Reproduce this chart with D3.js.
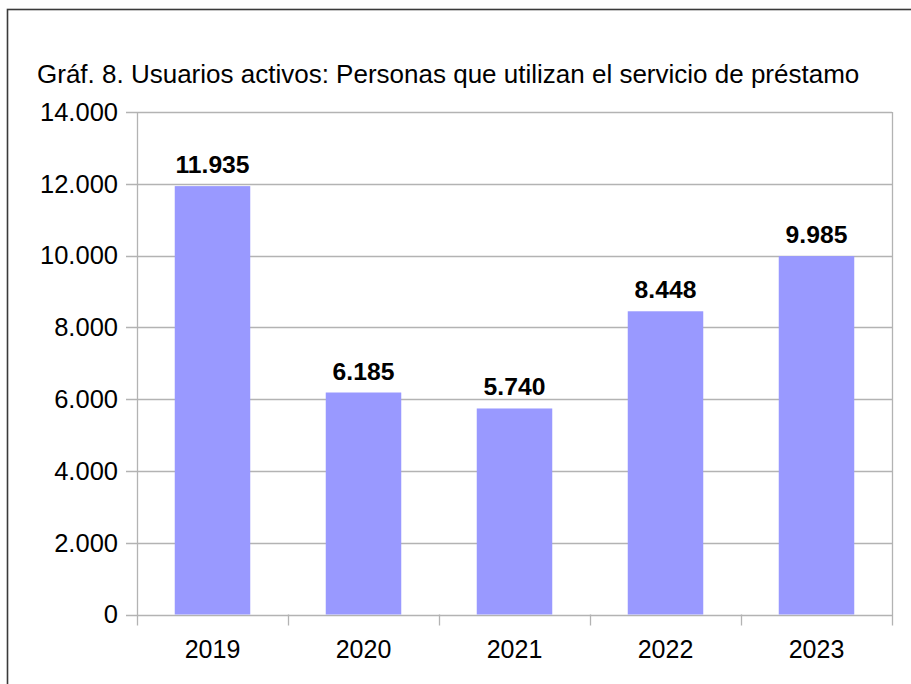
<!DOCTYPE html>
<html>
<head>
<meta charset="utf-8">
<script src="https://cdn.jsdelivr.net/npm/d3@7"></script>
<style>
  body { margin: 0; background: #fff; }
  svg text { font-family: "Liberation Sans", Arial, sans-serif; fill: #000; }
</style>
</head>
<body>
<svg id="chart" width="911" height="684"></svg>
<script>
const years = ['2019', '2020', '2021', '2022', '2023'];
const usuarios = [11935, 6185, 5740, 8448, 9985];
const yTicks = [0, 2000, 4000, 6000, 8000, 10000, 12000, 14000];
const title = 'Gráf. 8. Usuarios activos: Personas que utilizan el servicio de préstamo';

const fmt = (v) => d3.format(',')(v).replace(/,/g, '.');

const svg = d3.select('#chart');
const plot = { left: 137, right: 892, top: 112, bottom: 614.5 };

// outer frame (runs off the right and bottom edge)
svg.append('rect')
  .attr('x', 7.5)
  .attr('y', 9.5)
  .attr('width', 920)
  .attr('height', 700)
  .attr('fill', 'none')
  .attr('stroke', '#3a3a3a')
  .attr('stroke-width', 1.6);

svg.append('text')
  .attr('x', 37)
  .attr('y', 83)
  .style('font-size', '26px')
  .text(title);

const x = d3.scaleBand()
  .domain(years)
  .range([plot.left, plot.right])
  .paddingInner(0.5)
  .paddingOuter(0.25);

const y = d3.scaleLinear()
  .domain([0, 14000])
  .range([plot.bottom, plot.top]);

// gridlines
svg.append('g')
  .selectAll('line')
  .data(yTicks)
  .join('line')
  .attr('x1', plot.left - 11)
  .attr('x2', plot.right)
  .attr('y1', (d) => Math.round(y(d)) + 0.5)
  .attr('y2', (d) => Math.round(y(d)) + 0.5)
  .attr('stroke', '#b3b3b3')
  .attr('stroke-width', 1.3);

// y axis labels
svg.append('g')
  .selectAll('text')
  .data(yTicks)
  .join('text')
  .attr('x', plot.left - 19)
  .attr('y', (d) => y(d))
  .attr('dy', '0.35em')
  .attr('text-anchor', 'end')
  .style('font-size', '25.5px')
  .text((d) => fmt(d));

// bars
svg.append('g')
  .selectAll('rect')
  .data(usuarios)
  .join('rect')
  .attr('x', (d, i) => x(years[i]))
  .attr('y', (d) => y(d))
  .attr('width', x.bandwidth())
  .attr('height', (d) => plot.bottom - y(d))
  .attr('fill', '#9999ff');

// value labels
svg.append('g')
  .selectAll('text')
  .data(usuarios)
  .join('text')
  .attr('x', (d, i) => x(years[i]) + x.bandwidth() / 2)
  .attr('y', (d) => y(d) - 13)
  .attr('text-anchor', 'middle')
  .style('font-size', '24.7px')
  .style('font-weight', 'bold')
  .text((d) => fmt(d));

// axes lines and category ticks
const step = (plot.right - plot.left) / years.length;
const bounds = d3.range(years.length + 1).map((i) => plot.left + i * step);
svg.append('g')
  .selectAll('line')
  .data(bounds)
  .join('line')
  .attr('x1', (d) => Math.round(d) + 0.5)
  .attr('x2', (d) => Math.round(d) + 0.5)
  .attr('y1', (d, i) => (i === 0 || i === years.length ? plot.top : plot.bottom))
  .attr('y2', plot.bottom + 11)
  .attr('stroke', '#b3b3b3')
  .attr('stroke-width', 1.3);

// year labels
svg.append('g')
  .selectAll('text')
  .data(years)
  .join('text')
  .attr('x', (d) => x(d) + x.bandwidth() / 2)
  .attr('y', 658)
  .attr('text-anchor', 'middle')
  .style('font-size', '25px')
  .text((d) => d);
</script>
</body>
</html>
